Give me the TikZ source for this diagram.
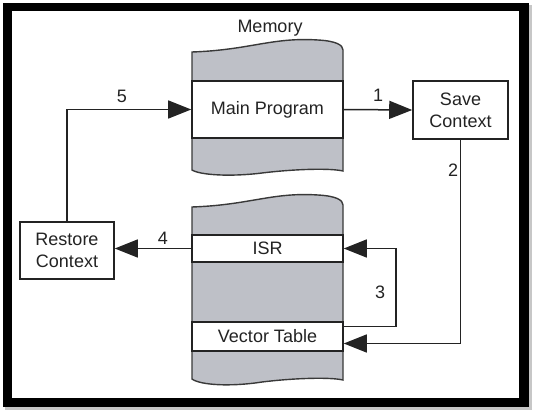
\documentclass[tikz,border=0pt]{standalone}
\usepackage{fontspec}
\setmainfont{Liberation Sans}
\usetikzlibrary{arrows.meta}
\definecolor{memgray}{RGB}{190,192,199}
\definecolor{ink}{RGB}{35,35,35}
\begin{document}
\begin{tikzpicture}[x=1pt,y=-1pt,
  txt/.style={font=\fontsize{18}{22}\selectfont, text=ink},
  band/.style={draw=ink, line width=1.6pt, fill=white, inner sep=0pt, txt},
  box/.style={draw=ink, line width=1.6pt, fill=white, inner sep=0pt, align=center, txt},
  memblock/.style={draw=ink!90, line width=1.4pt, fill=memgray},
  conn/.style={draw=ink, line width=1.5pt, -{Triangle[length=23pt,width=18pt]}},
  lbl/.style={txt}]
\useasboundingbox (0,0) rectangle (537,414);
% frame
\fill[black!22] (5,5) rectangle (531.5,409.5);
\fill[black] (3,3) rectangle (529,407);
\fill[white] (12,11.5) rectangle (519,398);
% memory blocks
\path[memblock] (192,52) .. controls (250,50) and (272,37) .. (318,40)
  .. controls (336,41) and (343,45) .. (343,50) -- (343,171)
  .. controls (330,168) and (295,169) .. (262,173)
  .. controls (230,177) and (200,175) .. (192,170) -- cycle;
\path[memblock] (192,207) .. controls (250,205) and (272,192) .. (318,195)
  .. controls (336,196) and (343,200) .. (343,205) -- (343,380)
  .. controls (330,377) and (295,378) .. (262,382)
  .. controls (230,387) and (200,385) .. (192,379) -- cycle;
\node[txt] (mem) at (270,28.5) {Memory};
\node[band, minimum width=151pt, minimum height=57pt] (mp) at (267.5,109.5) {Main Program};
\node[band, minimum width=151pt, minimum height=27pt] (isr) at (267.5,248.5) {ISR};
\node[band, minimum width=151pt, minimum height=29pt] (vt) at (267.5,336.5) {Vector Table};
\node[box, minimum width=95pt, minimum height=58pt] (save) at (460.5,110) {Save\\Context};
\node[box, minimum width=94pt, minimum height=57pt] (restore) at (67,250.5) {Restore\\Context};
% connectors
\draw[conn] (mp.east) -- (save.west);
\draw[conn] (save.south) |- ([yshift=-7pt]vt.east);
\draw[conn] ([yshift=10pt]vt.east) -- ++(52,0) |- (isr.east);
\draw[conn] (isr.west) -- (isr.west -| restore.east);
\draw[conn] (restore.north) |- (mp.west);
% labels
\node[lbl] (l1) at (378,95) {1};
\node[lbl] (l2) at (453,170) {2};
\node[lbl] (l3) at (380,292) {3};
\node[lbl] (l4) at (163,238) {4};
\node[lbl] (l5) at (122,96) {5};
\end{tikzpicture}
\end{document}
